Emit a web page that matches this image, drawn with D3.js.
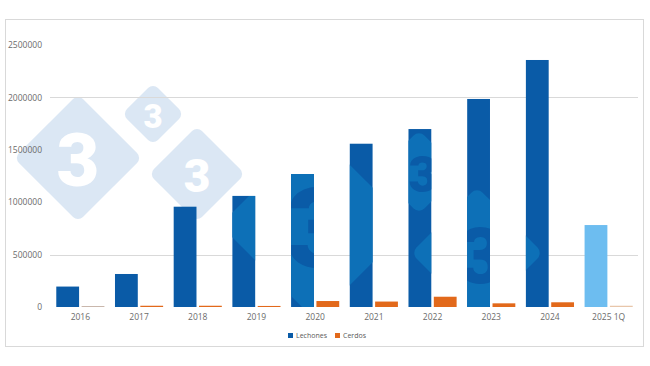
<!DOCTYPE html>
<html>
<head>
<meta charset="utf-8">
<script src="https://cdn.jsdelivr.net/npm/d3@7"></script>
<style>
  body { margin: 0; background: #fff; }
  svg { display: block; font-family: "Open Sans", "Liberation Sans", sans-serif; }
</style>
</head>
<body>
<div id="chart"></div>
<script>
'use strict';

// data
var years = ['2016', '2017', '2018', '2019', '2020', '2021', '2022', '2023', '2024', '2025 1Q'];
var lechones = [195000, 315000, 957000, 1060000, 1269000, 1558000, 1698000, 1985000, 2357000, 782000];
var cerdos = [8000, 12000, 12000, 10000, 57000, 52000, 98000, 35000, 45000, 12000];
var seriesNames = ['Lechones', 'Cerdos'];
var yTicks = [0, 500000, 1000000, 1500000, 2000000, 2500000];
var gridTicks = [500000, 2000000];

var W = 650, H = 366;
var colors = { Lechones: '#0a5ba7', Cerdos: '#e2691b' };
// a couple of points drawn in a lighter shade in the original
var pointColors = { '2016|Cerdos': '#bfaa9c', '2025 1Q|Lechones': '#6dbdf0', '2025 1Q|Cerdos': '#e8c6aa' };

var svg = d3.select('#chart').append('svg').attr('width', W).attr('height', H);

// frame
svg.append('rect')
  .attr('x', 5.5).attr('y', 19.5).attr('width', 638).attr('height', 327)
  .attr('fill', '#fff').attr('stroke', '#d9d9d9');

var x0 = d3.scaleBand().domain(years).range([51, 638]).paddingInner(0.18).paddingOuter(0.09);
var x1 = d3.scaleBand().domain(seriesNames).range([0, x0.bandwidth()]).paddingInner(0.1);
var y = d3.scaleLinear().domain([0, 2500000]).range([307, 45]);

// left watermark (behind the bars)
function diamond(g, cx, cy, h, fill, r) {
  var s = h * Math.SQRT2;
  g.append('rect')
    .attr('x', -s / 2).attr('y', -s / 2).attr('width', s).attr('height', s)
    .attr('rx', r).attr('fill', fill)
    .attr('transform', 'translate(' + cx + ',' + cy + ') rotate(45)');
}
function three(g, cx, cy, size, fill) {
  g.append('text')
    .attr('x', cx).attr('y', cy)
    .attr('text-anchor', 'middle').attr('dominant-baseline', 'central')
    .attr('font-family', 'Roboto, "Liberation Sans", sans-serif')
    .attr('font-weight', 900).attr('font-size', size)
    .attr('fill', fill).text('3');
}

var wm = svg.append('g');
[[78, 158, 64, 74], [153, 114, 31, 33], [197, 174, 48, 46]].forEach(function(d) {
  diamond(wm, d[0], d[1], d[2], '#dbe7f4', 7);
  three(wm, d[0], d[1] + 2, d[3], '#fff');
});

// grid
svg.append('g').selectAll('line').data(gridTicks).join('line')
  .attr('x1', 50).attr('x2', 638)
  .attr('y1', function(d) { return Math.round(y(d)) + 0.5; })
  .attr('y2', function(d) { return Math.round(y(d)) + 0.5; })
  .attr('stroke', '#d9d9d9');

// y axis labels
var yAxis = d3.axisLeft(y).tickValues(yTicks).tickSize(0).tickPadding(0).tickFormat(d3.format('d'));
svg.append('g').attr('transform', 'translate(42,0)').call(yAxis)
  .call(function(g) { g.select('.domain').remove(); })
  .selectAll('text').attr('fill', '#6b6b6b').attr('font-size', 8.5).attr('font-family', '"Open Sans", sans-serif');

// x axis labels
var xAxis = d3.axisBottom(x0).tickSize(0).tickPadding(0);
svg.append('g').attr('transform', 'translate(0,314)').call(xAxis)
  .call(function(g) { g.select('.domain').remove(); })
  .selectAll('text').attr('fill', '#6b6b6b').attr('font-size', 8.5).attr('font-family', '"Open Sans", sans-serif');

// bars
var rows = years.map(function(yr, i) {
  return { year: yr, values: [{ key: 'Lechones', value: lechones[i] }, { key: 'Cerdos', value: cerdos[i] }] };
});

function barColor(yr, key) {
  return pointColors[yr + '|' + key] || colors[key];
}

var groups = svg.append('g').selectAll('g').data(rows).join('g')
  .attr('transform', function(d) { return 'translate(' + x0(d.year) + ',0)'; });

groups.selectAll('rect').data(function(d) {
    return d.values.map(function(v) { return { year: d.year, key: v.key, value: v.value }; });
  }).join('rect')
  .attr('x', function(d) { return x1(d.key); })
  .attr('width', x1.bandwidth())
  .attr('y', function(d) { return y(d.value); })
  .attr('height', function(d) { return y(0) - y(d.value); })
  .attr('fill', function(d) { return barColor(d.year, d.key); });

// right watermark, only visible on the dark bars
var clip = svg.append('clipPath').attr('id', 'barclip');
rows.forEach(function(r, i) {
  if (r.year === '2025 1Q') return;
  clip.append('rect')
    .attr('x', x0(r.year) + x1('Lechones')).attr('width', x1.bandwidth())
    .attr('y', y(lechones[i])).attr('height', y(0) - y(lechones[i]));
});
var wm2 = svg.append('g').attr('clip-path', 'url(#barclip)');
[[315, 225, 95, 112], [419, 172, 42, 50], [477, 253, 66, 78]].forEach(function(d) {
  diamond(wm2, d[0], d[1], d[2], '#0d70b7', 8);
  three(wm2, d[0] + 4, d[1] + 3, d[3], colors.Lechones);
});

// legend
var legend = svg.append('g').attr('transform', 'translate(288,335.5)');
var items = legend.selectAll('g').data(seriesNames).join('g')
  .attr('transform', function(d, i) { return 'translate(' + (i * 47) + ',0)'; });
items.append('rect').attr('x', 0).attr('y', -2.5).attr('width', 5).attr('height', 5)
  .attr('fill', function(d) { return colors[d]; });
items.append('text').attr('x', 8).attr('y', 0).attr('dominant-baseline', 'central')
  .attr('font-size', 7).attr('fill', '#595959').text(function(d) { return d; });
</script>
</body>
</html>
